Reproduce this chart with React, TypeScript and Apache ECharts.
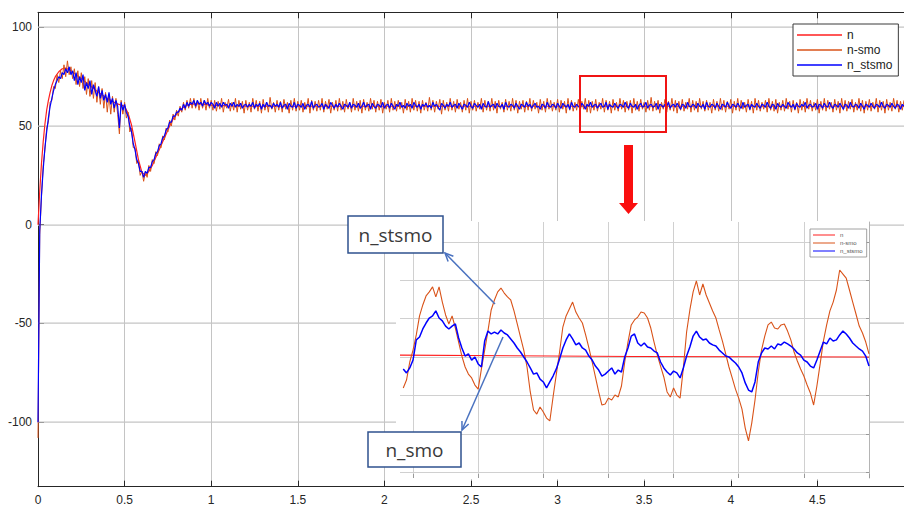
import React, { useEffect, useRef } from "react";
import * as echarts from "echarts";

// ---- speed response, sampled every 10 ms from 0 to 5 s ----
const STEP = 0.01;

// n: measured speed (smooth), given as explicit (t, value) pairs
const N_T = [0, 0.01, 0.02, 0.03, 0.04, 0.05, 0.06, 0.07, 0.08, 0.09, 0.1, 0.12, 0.14, 0.16, 0.18, 0.2, 0.25, 0.3, 0.35, 0.4, 0.45, 0.5, 0.52, 0.54, 0.56, 0.58, 0.6, 0.62, 0.64, 0.66, 0.68, 0.7, 0.72, 0.74, 0.76, 0.78, 0.8, 0.82, 0.84, 0.86, 0.88, 0.92, 0.96, 1.0, 1.1, 1.2, 5.0];
const N_V = [0, 17, 31, 42, 51, 58, 63, 67, 70.5, 73, 75, 77.5, 79, 79.3, 78.5, 77.3, 74, 70.5, 67, 64, 61.5, 60, 56.5, 50.5, 42, 33, 26.5, 25, 27, 30, 34, 38, 42, 46, 50, 53.5, 56, 58, 59.5, 60.5, 61, 61.3, 61, 60.6, 60.2, 60, 60];

// n-smo: sliding-mode observer estimate
const N_SMO = [
  -108, -5, 14, 30, 38, 49, 52, 62, 63, 70,
  69, 76, 72, 78, 74, 81, 75, 83, 76, 80,
  74, 79, 71, 78, 70, 77, 69, 75, 66, 74,
  65, 73, 64, 72, 62, 70, 61, 69, 59, 67,
  57, 66, 56, 65, 57, 64, 56, 46, 63, 56,
  62, 54, 57, 47, 49, 39, 39, 31, 32, 25,
  27, 22, 27, 24, 30, 27, 33, 31, 37, 35,
  41, 39, 45, 43, 49, 47, 53, 50, 56, 53,
  58, 55, 60, 57, 62, 58, 63, 59, 64, 59,
  64, 59, 63, 58, 64, 59, 63, 58, 64, 59,
  63,
  58, 63, 57.5, 62.5, 58.5, 64, 57, 62, 59, 63.5, 57.5, 62, 58, 64, 57, 63, 58.5, 62.5, 56.5, 63,
  58, 62, 57, 64, 58.5, 63, 57.5, 62.5, 56.5, 63.5, 58, 62, 57, 64.5, 58.5, 62, 57, 63, 58, 62.5,
  57, 63.5, 58.5, 62, 56.5, 63, 58, 64, 57.5, 62.5, 58, 63, 57, 62, 58.5, 64, 56.5, 63, 58, 62.5,
  57.5, 63, 58, 64, 57, 62.5, 58.5, 63.5, 56.5, 62, 58, 63, 57.5, 64, 58, 62.5, 57, 63.5, 58.5, 62,
  57, 64, 58, 62.5, 57.5, 63, 56.5, 63.5, 58, 62, 57.5, 64, 58.5, 63, 57, 62.5, 58, 63.5, 56.5, 62,
  58.5, 63, 57, 64, 58, 62.5, 57.5, 63, 58.5, 62, 56.5, 63.5, 58, 62.5, 57, 64, 58, 63, 57.5, 62.5,
  56.5, 63, 58, 62, 57.5, 64.5, 58, 63, 57, 62.5, 58.5, 63.5, 56, 63, 58, 62, 57.5, 64, 58, 62.5,
  57, 63.5, 58.5, 62, 57, 63, 58, 64, 56.5, 62.5, 58, 63, 57.5, 62, 58.5, 64, 57, 63, 58, 62.5,
  57.5, 64, 58, 62.5, 56.5, 63, 58.5, 62, 57, 63.5, 58, 62.5, 57.5, 64, 58, 63, 56.5, 62.5, 58.5, 63,
  57, 62.5, 58, 64, 57.5, 63, 58.5, 62, 56.5, 63.5, 58, 62.5, 57, 64, 58.5, 63, 57.5, 62, 58, 63.5,
  57, 63, 58.5, 62.5, 56.5, 64, 58, 63, 57.5, 62, 58, 63.5, 57, 62.5, 58.5, 64, 57, 63, 56.5, 62.5,
  58, 63.5, 57.5, 62, 58.5, 64, 57, 63, 58, 62.5, 56.5, 63.5, 58, 62, 57.5, 64, 58.5, 63, 57, 62.5,
  58, 63, 56.5, 64, 58, 62.5, 57.5, 63.5, 58.5, 62, 57, 63, 58, 64.5, 57.5, 62.5, 58, 63, 56.5, 62,
  58.5, 63.5, 57, 62.5, 58, 64, 57.5, 63, 56.5, 62.5, 58, 63.5, 57.5, 62, 58.5, 64, 57, 63, 58, 62.5,
  57, 64, 58.5, 62.5, 57.5, 63, 58, 62, 56.5, 63.5, 58, 62.5, 57.5, 64, 58, 63, 57, 62.5, 58.5, 63.5,
  56.5, 62.5, 58, 64, 57.5, 63, 58.5, 62, 57, 63.5, 58, 62.5, 56.5, 64, 58, 63, 57.5, 62, 58.5, 63,
  57, 64, 58, 62.5, 57.5, 63.5, 56.5, 62, 58, 63, 57.5, 64, 58.5, 62.5, 57, 63, 58, 62, 56.5, 63.5,
  58, 62.5, 57, 64, 58.5, 63, 57.5, 62, 58, 63.5, 56.5, 62.5, 58, 64, 57.5, 63, 58.5, 62, 57, 63.5,
  58, 62.5, 56.5, 64, 58, 63, 57.5, 62.5, 58.5, 63.5, 57, 62, 58, 64, 57.5, 63, 56.5, 62.5, 58, 63.5,
  57.5, 62, 58.5, 64, 57, 63, 58, 62.5, 56.5, 63.5, 58, 62, 57.5, 64, 58.5, 63, 57, 62.5, 58, 63,
];

// n_stsmo: super-twisting sliding-mode observer estimate
const N_STSMO = [
  -100, -3, 15, 28, 39, 47, 54, 60, 64, 68,
  71, 73, 75, 74, 77, 76, 79, 77, 80, 76,
  78, 73, 77, 71, 75, 72, 76, 68, 72, 69,
  73, 66, 71, 68, 65, 70, 64, 68, 63, 66,
  62, 67, 61, 64, 59, 63, 60, 49, 62, 58,
  61, 57, 55, 50, 47, 41, 38, 33, 31, 27,
  27, 24, 27, 26, 29, 29, 32, 33, 36, 37,
  40, 41, 44, 45, 48, 49, 52, 52, 55, 55,
  57, 57, 59, 58, 61, 59, 62, 60, 62, 61,
  63, 60, 63, 61, 62, 60, 63, 61, 62, 60,
  62,
  61, 59, 62, 60, 61.5, 59.5, 62, 60.5, 61, 59, 61.5, 60, 62, 59.5, 61, 60, 61.5, 59, 60.5, 61,
  59.5, 61, 60, 62, 59, 61, 60, 61.5, 58.5, 61, 59.5, 62, 60, 60.5, 59, 61.5, 60, 61, 59.5, 62,
  59, 60.5, 61, 58.5, 61.5, 60, 59.5, 62, 59, 61, 60.5, 59.5, 61.5, 58.5, 60.5, 61, 59.5, 62.5, 59, 60.5,
  61, 59.5, 60, 61.5, 58.5, 61, 60, 59, 62, 60.5, 59, 61, 59.5, 61.5, 60, 58.5, 61, 60.5, 59.5, 62,
  59, 61, 60.5, 59.5, 61.5, 59, 60, 62, 59.5, 60.5, 61, 58.5, 61.5, 60, 59, 61, 60.5, 59.5, 62, 59,
  60.5, 61, 59, 61.5, 60, 58.5, 61, 60, 62, 59.5, 60.5, 59, 61.5, 60, 61, 59, 62, 60.5, 59.5, 61,
  58.5, 61, 60, 61.5, 59.5, 60.5, 59, 62, 60, 61, 59.5, 58, 61.5, 60.5, 59, 61, 60, 62, 59.5, 60.5,
  61, 59, 61.5, 60, 58.5, 61, 60.5, 59.5, 62, 60, 59, 61.5, 60.5, 59.5, 61, 58.5, 61.5, 60, 59.5, 62.5,
  59.5, 60.5, 61, 59, 61.5, 60, 59.5, 61, 58.5, 62, 60, 59.5, 61, 60.5, 59, 61.5, 60, 58.5, 61, 60.5,
  59.5, 62, 60, 61, 59, 60.5, 61.5, 59.5, 60, 58.5, 61, 60.5, 59, 62, 60, 59.5, 61, 60.5, 59, 61.5,
  60, 59, 61.5, 60.5, 59.5, 61, 58.5, 62, 60, 59.5, 61, 60, 59, 61.5, 60.5, 58.5, 61, 60, 62, 59.5,
  60.5, 61, 59, 60.5, 61.5, 59.5, 60, 62, 58.5, 61, 60, 59.5, 61.5, 60, 59, 61, 60.5, 59.5, 62, 60,
  59, 61.5, 60, 59.5, 61, 58.5, 60.5, 61.5, 59.5, 60, 62, 59, 60.5, 61, 59.5, 60, 61.5, 58.5, 61, 60.5,
  59.5, 61, 60, 62, 59, 60.5, 61, 59.5, 61.5, 60, 58.5, 61, 60.5, 59, 62, 60, 59.5, 61, 60.5, 59,
  61.5, 60, 59.5, 61, 58.5, 62, 60, 59.5, 61, 60.5, 59, 61.5, 60, 58.5, 61, 60.5, 59.5, 62, 60, 59,
  61, 60.5, 59.5, 61.5, 60, 59, 62, 59.5, 60.5, 61, 58.5, 61, 60, 59.5, 61.5, 60, 59, 61, 60.5, 59.5,
  62, 60, 59, 61, 60.5, 58.5, 61.5, 60, 59.5, 61, 60, 59, 62, 60.5, 59.5, 61, 58.5, 61.5, 60, 59.5,
  61, 60, 62, 59, 60.5, 61, 59.5, 60, 61.5, 58.5, 61, 60.5, 59, 61.5, 60, 59.5, 62, 60, 59, 61,
  60.5, 59.5, 61.5, 60, 58.5, 61, 60.5, 59, 62, 60, 59.5, 61, 60.5, 59, 61.5, 60, 58.5, 61, 60.5, 59.5,
  61.5, 60, 59, 61, 60.5, 59.5, 62, 60, 59, 61, 60.5, 59.5, 61.5, 60, 59, 61, 60.5, 58.5, 61, 60,
];

// ---- detail window, sampled every 2.5 ms ----
const ZOOM_T0 = 3.1925;
const ZOOM_STEP = 0.0025;
const ZOOM_N_T = [3.19, 3.37, 3.55];
const ZOOM_N_V = [60.1, 60.03, 60.0];
const ZOOM_N_SMO = [
  58.39, 58.8, 59.74, 60.36, 61.15, 62.14, 62.71, 63.18, 63.39, 63.65,
  63.13, 63.65, 62.86, 62.19, 61.72, 62.14, 61.51, 60.78, 60.05, 59.48,
  59.11, 58.91, 58.54, 58.33, 59.38, 60.36, 61.35, 62.45, 62.97, 63.39,
  63.59, 63.33, 63.13, 62.97, 62.4, 61.72, 61.04, 60.36, 59.48, 58.18,
  57.24, 57.03, 57.4, 57.14, 56.82, 56.67, 57.92, 59.11, 60.26, 61.56,
  62.14, 62.5, 62.86, 62.34, 62.03, 61.77, 61.15, 60.47, 59.74, 58.96,
  58.18, 57.5, 57.55, 57.86, 57.76, 58.02, 57.92, 58.49, 59.74, 60.78,
  61.67, 61.93, 62.08, 62.34, 62.29, 62.03, 61.51, 60.78, 60.1, 59.53,
  58.96, 58.18, 57.92, 58.39, 58.02, 57.86, 59.43, 61.3, 62.45, 63.39,
  63.96, 63.23, 63.8, 63.23, 62.81, 62.4, 62.03, 61.41, 60.83, 60.16,
  59.48, 58.91, 58.33, 57.86, 57.29, 56.3, 55.63, 56.56, 57.76, 59.22,
  60.36, 61.09, 61.67, 61.82, 61.51, 61.46, 61.67, 61.72, 61.35, 60.89,
  60.26, 59.79, 59.38, 59.01, 58.54, 58.13, 57.5, 58.49, 59.64, 60.83,
  61.67, 62.4, 62.86, 63.49, 64.53, 64.32, 64.11, 63.49, 62.86, 62.24,
  61.61, 61.25, 60.78, 60.16,
];
const ZOOM_N_STSMO = [
  59.38, 59.17, 59.43, 59.84, 60.89, 61.04, 61.46, 61.77, 62.03, 62.14,
  62.4, 62.03, 61.88, 61.61, 61.46, 61.61, 61.72, 60.99, 60.47, 60.05,
  60.16, 59.84, 60.0, 59.64, 59.48, 60.83, 61.35, 61.2, 61.3, 61.2,
  61.41, 61.25, 61.15, 60.94, 60.73, 60.47, 60.26, 60.0, 59.74, 59.43,
  59.11, 59.17, 58.85, 58.7, 58.39, 58.7, 59.01, 59.38, 59.9, 60.47,
  60.89, 61.2, 60.94, 60.63, 60.73, 60.47, 60.36, 60.05, 59.84, 59.53,
  59.32, 59.01, 59.11, 59.27, 59.43, 59.11, 59.32, 59.22, 60.0, 60.47,
  61.09, 61.2, 60.73, 60.57, 60.73, 60.52, 60.47, 60.31, 60.21, 59.74,
  59.43, 59.22, 59.06, 59.27, 59.17, 58.91, 59.43, 60.05, 60.52, 61.09,
  61.35, 61.04, 60.89, 60.94, 60.73, 60.63, 60.57, 60.36, 60.21, 60.05,
  60.0, 59.84, 59.69, 59.48, 59.17, 58.65, 58.28, 58.18, 58.7, 59.74,
  60.21, 60.47, 60.42, 60.57, 60.42, 60.68, 60.63, 60.78, 60.68, 60.57,
  60.42, 60.21, 60.1, 59.84, 59.74, 59.53, 59.43, 59.84, 60.31, 60.78,
  60.68, 60.99, 60.83, 60.89, 61.15, 61.35, 61.2, 60.99, 60.73, 60.57,
  60.42, 60.31, 60.05, 59.53,
];

// ---- axes ----
const Y_MIN = -132.7;
const Y_MAX = 107.6;
const Y_GRID = [-100, -50, 0, 50, 100];
const ZOOM_X_TICKS = [3.2, 3.25, 3.3, 3.35, 3.4, 3.45, 3.5, 3.55];
const ZOOM_Y_TICKS = [54, 56, 58, 60, 62, 64, 66];

const NAMES = ["n", "n-smo", "n_stsmo"];
const COLORS = ["#ff1f1f", "#d95319", "#0000ff"];

const FONT = "'Liberation Sans', Arial, sans-serif";
const NOTE_FONT = "'Open Sans', 'Noto Sans', sans-serif";

const pairs = (ts: number[], vs: number[]) => ts.map((t, i) => [t, vs[i]]);
const sampled = (vs: number[], t0: number, dt: number) =>
  vs.map((v, i) => [+(t0 + i * dt).toFixed(5), v]);

function arrow(x1: number, y1: number, x2: number, y2: number, color: string) {
  const a = Math.atan2(y2 - y1, x2 - x1);
  const len = 9;
  const spread = 0.42;
  return [
    {
      type: "line",
      z: 30,
      shape: { x1, y1, x2, y2 },
      style: { stroke: color, lineWidth: 1.5 },
    },
    {
      type: "polyline",
      z: 30,
      shape: {
        points: [
          [x2 - len * Math.cos(a - spread), y2 - len * Math.sin(a - spread)],
          [x2, y2],
          [x2 - len * Math.cos(a + spread), y2 - len * Math.sin(a + spread)],
        ],
      },
      style: { stroke: color, lineWidth: 1.5, fill: "none" },
    },
  ];
}

function noteBox(x: number, y: number, w: number, h: number, label: string) {
  return [
    {
      type: "rect",
      z: 31,
      shape: { x, y, width: w, height: h },
      style: { fill: "#ffffff", stroke: "#2f528f", lineWidth: 1.5 },
    },
    {
      type: "text",
      z: 32,
      x: x + w / 2,
      y: y + h / 2,
      style: {
        text: label,
        fill: "#3a3a3a",
        fontSize: 19,
        fontFamily: NOTE_FONT,
        align: "center",
        verticalAlign: "middle",
      },
    },
  ];
}

export default function App() {
  const ref = useRef<HTMLDivElement>(null);

  useEffect(() => {
    if (!ref.current) return;
    const chart = echarts.init(ref.current, null, { renderer: "svg" });

    const axisColor = "#262626";
    const gridColor = "#c4c4c4";
    const zoomGrid = "#d0d0d0";

    const mainData = [pairs(N_T, N_V), sampled(N_SMO, 0, STEP), sampled(N_STSMO, 0, STEP)];
    const zoomData = [
      pairs(ZOOM_N_T, ZOOM_N_V),
      sampled(ZOOM_N_SMO, ZOOM_T0, ZOOM_STEP),
      sampled(ZOOM_N_STSMO, ZOOM_T0, ZOOM_STEP),
    ];

    const series: any[] = [];
    NAMES.forEach((name, i) => {
      series.push({
        name,
        type: "line",
        xAxisIndex: 0,
        yAxisIndex: 0,
        data: mainData[i],
        showSymbol: false,
        symbol: "none",
        z: 2,
        lineStyle: { color: COLORS[i], width: i === 1 ? 1 : 1.2 },
        itemStyle: { color: COLORS[i] },
      });
    });
    NAMES.forEach((name, i) => {
      series.push({
        name,
        type: "line",
        xAxisIndex: 2,
        yAxisIndex: 1,
        data: zoomData[i],
        showSymbol: false,
        symbol: "none",
        z: 11,
        lineStyle: { color: COLORS[i], width: i === 2 ? 1.5 : 1.1 },
        itemStyle: { color: COLORS[i] },
      });
    });

    chart.setOption({
      animation: false,
      backgroundColor: "#ffffff",
      textStyle: { fontFamily: FONT },
      grid: [
        { left: 38, top: 12.3, right: 0, bottom: 20.3 },
        { left: 400, top: 222, width: 469, height: 256, z: 10 },
      ],
      xAxis: [
        {
          gridIndex: 0,
          type: "value",
          position: "bottom",
          min: 0,
          max: 5,
          interval: 0.5,
          axisLine: { show: true, onZero: false, lineStyle: { color: axisColor, width: 1 } },
          axisTick: { show: true, inside: true, length: 6, lineStyle: { color: axisColor } },
          axisLabel: { color: "#262626", fontSize: 12, margin: 7, showMaxLabel: false },
          splitLine: { show: true, lineStyle: { color: gridColor, width: 1 } },
        },
        {
          gridIndex: 0,
          type: "value",
          position: "top",
          min: 0,
          max: 5,
          interval: 0.5,
          axisLine: { show: true, onZero: false, lineStyle: { color: axisColor, width: 1 } },
          axisTick: { show: true, inside: true, length: 6, lineStyle: { color: axisColor } },
          axisLabel: { show: false },
          splitLine: { show: false },
        },
        {
          gridIndex: 1,
          type: "value",
          position: "bottom",
          min: 3.19,
          max: 3.55,
          z: 10,
          axisLine: { show: false, onZero: false },
          axisTick: {
            show: true,
            inside: true,
            length: 4,
            customValues: ZOOM_X_TICKS,
            lineStyle: { color: "#9a9a9a" },
          },
          axisLabel: { show: false, customValues: ZOOM_X_TICKS },
          splitLine: { show: true, lineStyle: { color: zoomGrid, width: 1 } },
        },
      ],
      yAxis: [
        {
          // nice ticks land on -100, -50, 0, 50, 100 inside this range
          gridIndex: 0,
          type: "value",
          position: "left",
          min: Y_MIN,
          max: Y_MAX,
          splitNumber: 5,
          axisLine: { show: true, onZero: false, lineStyle: { color: axisColor, width: 1 } },
          axisTick: { show: true, inside: true, length: 6, lineStyle: { color: axisColor } },
          axisLabel: {
            color: "#262626",
            fontSize: 12,
            margin: 6,
            showMinLabel: false,
            showMaxLabel: false,
          },
          splitLine: { show: false },
        },
        {
          gridIndex: 1,
          type: "value",
          position: "right",
          min: 53.7,
          max: 67.03,
          z: 10,
          axisLine: { show: true, onZero: false, lineStyle: { color: "#b4b4b4", width: 1 } },
          axisTick: {
            show: true,
            inside: true,
            length: 3,
            customValues: ZOOM_Y_TICKS,
            lineStyle: { color: "#9a9a9a" },
          },
          axisLabel: { show: false, customValues: ZOOM_Y_TICKS },
          splitLine: { show: true, lineStyle: { color: zoomGrid, width: 1 } },
        },
      ],
      legend: [
        {
          data: NAMES,
          orient: "vertical",
          left: 793,
          top: 24,
          padding: [4, 6, 4, 4],
          itemGap: 1,
          itemWidth: 45,
          itemHeight: 1.6,
          itemTextGap: 4,
          icon: "rect",
          backgroundColor: "#ffffff",
          borderColor: "#3a3a3a",
          borderWidth: 1,
          textStyle: { fontSize: 12, lineHeight: 14, color: "#222", fontFamily: FONT },
          selectedMode: false,
          z: 5,
        },
        {
          data: NAMES,
          orient: "vertical",
          left: 810,
          top: 229,
          padding: [2, 4, 2, 3],
          itemGap: 0,
          itemWidth: 22,
          itemHeight: 1,
          itemTextGap: 3,
          icon: "rect",
          backgroundColor: "#ffffff",
          borderColor: "#8a8a8a",
          borderWidth: 0.8,
          textStyle: { fontSize: 6, lineHeight: 8, color: "#555", fontFamily: FONT },
          selectedMode: false,
          z: 12,
        },
      ],
      series,
    });

    // horizontal grid of the main axes: thin filled bands placed through the y scale
    const left = chart.convertToPixel({ xAxisIndex: 0 }, 0) as number;
    const right = chart.convertToPixel({ xAxisIndex: 0 }, 5) as number;
    const hGrid = Y_GRID.map((v) => {
      const y = Math.round(chart.convertToPixel({ yAxisIndex: 0 }, v) as number);
      return {
        type: "rect",
        z: 1,
        silent: true,
        shape: { x: left, y: y - 0.5, width: right - left, height: 1.2 },
        style: { fill: gridColor },
      };
    });

    chart.setOption({
      graphic: {
        elements: [
          ...hGrid,
          // backdrop of the detail window
          {
            type: "rect",
            z: 9,
            silent: true,
            shape: { x: 396, y: 221, width: 474, height: 258 },
            style: { fill: "#ffffff" },
          },
          // region that is enlarged
          {
            type: "rect",
            z: 30,
            shape: { x: 580, y: 76, width: 86, height: 56 },
            style: { fill: "none", stroke: "#f01414", lineWidth: 2 },
          },
          // pointer from the region down to the detail window
          {
            type: "polygon",
            z: 30,
            shape: {
              points: [
                [624, 145],
                [633, 145],
                [633, 203],
                [638, 203],
                [628.5, 214],
                [619, 203],
                [624, 203],
              ],
            },
            style: { fill: "#fa0f0f" },
          },
          ...arrow(495, 304, 445, 253, "#4a72c0"),
          ...arrow(503, 337, 462, 430, "#4a72c0"),
          ...noteBox(348, 216, 95, 37, "n_stsmo"),
          ...noteBox(368, 432, 93, 35, "n_smo"),
        ],
      },
    });

    return () => chart.dispose();
  }, []);

  return (
    <div
      ref={ref}
      style={{ position: "fixed", left: 0, top: 0, width: 904, height: 507, background: "#fff" }}
    />
  );
}
